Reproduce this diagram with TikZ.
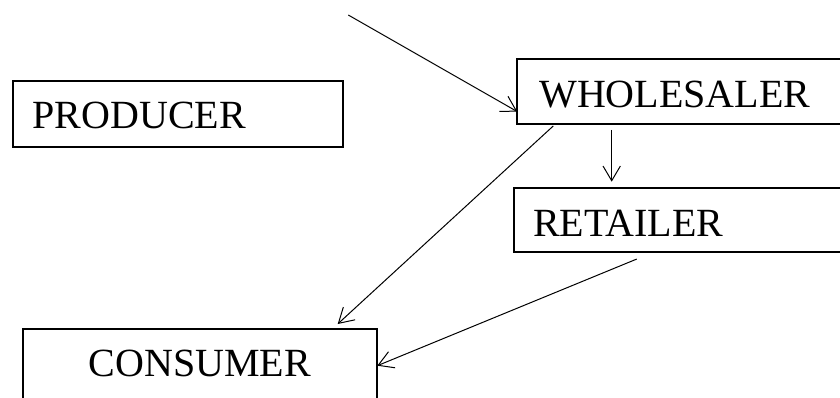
\documentclass[tikz,border=0pt]{standalone}
\usepackage{fontspec}
\setmainfont{Liberation Serif}
\usetikzlibrary{arrows.meta,calc}
\tikzset{
  boxnode/.style={draw, line width=1.5pt, inner sep=0pt, outer sep=0pt, anchor=north west,
    font=\fontsize{30pt}{36pt}\selectfont},
  flow/.style={line width=0.75pt, -{Straight Barb[length=11pt,width=13pt,line width=0.75pt]}}
}
\begin{document}
\begin{tikzpicture}[x=0.75pt,y=-0.75pt]
\useasboundingbox (0,0) rectangle (840,397);
\clip (0,0) rectangle (840,397);
\node[boxnode, text height=35.625pt, text depth=13.875pt] (prod) at (12.5,80.5)
  {\makebox[247.5pt][l]{\hspace{15pt}PRODUCER}};
\node[boxnode, text height=36.5pt, text depth=12.2pt] (whole) at (517.3,59.3)
  {\makebox[255pt][l]{\hspace{16.5pt}WHOLESALER}};
\node[boxnode, text height=35.8pt, text depth=11.8pt] (ret) at (514.3,188.3)
  {\makebox[255pt][l]{\hspace{14.25pt}RETAILER}};
\node[boxnode, text height=35.55pt, text depth=40pt] (cons) at (22.7,329.3)
  {\makebox[265.5pt][c]{CONSUMER}};
\coordinate (src) at (348.3,15);
\draw[flow] (src) -- ($(whole.south west)+(0,-12.6)$);
\draw[flow] ($(whole.south west)+(94.4,5.7)$) -- ($(ret.north west)+(97.4,-6.6)$);
\draw[flow] ($(whole.south west)+(36,1.7)$) -- ($(cons.north west)+(315,-5.3)$);
\draw[flow] ($(ret.south west)+(122.4,7.3)$) -- ($(cons.north east)+(0.6,36.4)$);
\end{tikzpicture}
\end{document}
